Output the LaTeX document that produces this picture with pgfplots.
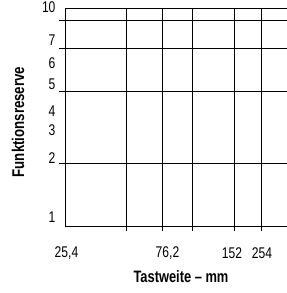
\documentclass[border=0pt]{standalone}
\usepackage{pgfplots}
\pgfplotsset{compat=1.18}
\usepackage{fontspec}
\setmainfont{Liberation Sans}
\newfontfamily\cond[FakeStretch=0.78,Ligatures=TeX]{Liberation Sans}
\begin{document}
\begin{tikzpicture}
\begin{axis}[
  x=1pt, y=1pt,
  xmin=65, xmax=290, ymin=66.3, ymax=284.7,
  axis line style={line width=0.85pt, black},
  tick align=outside, tick pos=left,
  xtick=\empty,
  ytick={129.7,201.3,244.3,273},
  yticklabels={},
  major tick length=6pt,
  ymajorgrids=true,
  every tick/.style={black, line width=0.85pt},
  major grid style={black, line width=0.85pt},
  extra x ticks={66.5,167.5,232,262},
  extra x tick labels={{25,4},{76,2},152,254},
  extra x tick style={grid=none, major tick length=0pt, tick style={draw=none},
    tick label style={anchor=center, yshift=-26pt}},
  extra y ticks={284.7,253,230,209,182,163,135,76},
  extra y tick labels={\raisebox{3pt}{10},7,6,5,4,3,2,1},
  extra y tick style={grid=none, major tick length=0pt, tick style={draw=none},
    tick label style={anchor=east, xshift=-6pt}},
  tick label style={font=\cond\fontsize{15.5}{15.5}\selectfont},
  xlabel={Tastweite – mm},
  ylabel={Funktionsreserve},
  xlabel style={font=\cond\bfseries\fontsize{16.5}{16.5}\selectfont, anchor=center,
    at={(axis description cs:0.5156,-0.2303)}},
  ylabel style={font=\cond\bfseries\fontsize{17}{17}\selectfont, anchor=center,
    at={(axis description cs:-0.2089,0.4794)}, rotate=0},
  clip=false,
]
\addplot[black, line width=0.85pt] coordinates {(126,62.3) (126,284.7)};
\addplot[black, line width=0.85pt] coordinates {(162,62.3) (162,284.7)};
\addplot[black, line width=0.85pt] coordinates {(192,62.3) (192,284.7)};
\addplot[black, line width=0.85pt] coordinates {(234,62.3) (234,284.7)};
\addplot[black, line width=0.85pt] coordinates {(261,62.3) (261,284.7)};
\coordinate (BL) at (axis cs:0,0);
\coordinate (TR) at (axis cs:287,293);
\end{axis}
\pgfresetboundingbox
\path[use as bounding box] (BL) rectangle (TR);
\end{tikzpicture}
\end{document}
